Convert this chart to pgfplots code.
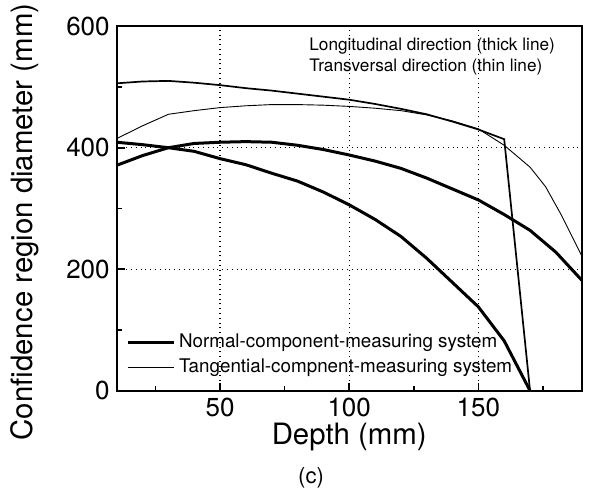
\documentclass[border=0pt]{standalone}
\usepackage{fontspec}
\setmainfont{TeX Gyre Heros}
\usepackage{pgfplots}
\pgfplotsset{compat=1.18}

\begin{document}
\begin{tikzpicture}
% fix the page to the reference's proportions (595x498 px at 0.5pt per px)
\path[use as bounding box] (-58.35pt,-53.65pt) rectangle (239.15pt,195.35pt);
\begin{axis}[
    at={(0,0)}, anchor=south west,
    scale only axis, width=232.5pt, height=182.25pt,
    xmin=10, xmax=190, ymin=0, ymax=600,
    xtick={50,100,150}, ytick={0,200,400,600},
    minor xtick={25,75,125,175}, minor ytick={100,300,500},
    xtick pos=bottom, ytick pos=left,
    tick align=inside,
    major tick length=4pt, minor tick length=2.5pt,
    tick style={black, line width=0.8pt},
    axis line style={line width=1pt},
    grid=major, major grid style={dotted, black, line width=0.6pt},
    /pgf/number format/assume math mode=true,
    ticklabel style={font=\fontsize{13}{15}\selectfont},
    xlabel={Depth (mm)},
    ylabel={Confidence region diameter (mm)},
    label style={font=\fontsize{14.7}{17}\selectfont},
    xlabel style={at={(axis description cs:0.5,-0.126)}, anchor=center},
    ylabel style={at={(axis description cs:-0.197,0.463)}, anchor=center},
    legend style={draw=none, fill=none, at={(axis description cs:0.015,0.023)},
        anchor=south west, font=\fontsize{9.4}{11}\selectfont,
        row sep=0.3pt, inner sep=1pt},
    legend cell align=left,
    legend image code/.code={\draw[#1] (0pt,0pt) -- (23pt,0pt);},
    clip=false,
]
% longitudinal, tangential system (medium line)
\addplot[forget plot, black, line width=0.85pt] coordinates {
    (10,506) (20,509) (30,510) (40,507) (50,503) (60,498) (70,494) (80,489)
    (90,484) (100,479) (110,472) (120,464) (130,455) (140,443) (150,430)
    (160,414) (170,0)
};
% transversal, tangential system (thin line)
\addplot[forget plot, black, line width=0.45pt] coordinates {
    (10,415) (20,436) (30,455) (40,461) (50,466) (60,469) (70,471) (80,471)
    (90,470) (100,468) (110,465) (120,461) (130,454) (140,444) (150,431)
    (160,404) (170,368) (176,336) (182,290) (190,222)
};
% normal system, falls to zero
\addplot[forget plot, black, line width=1.5pt] coordinates {
    (10,409) (20,405) (30,400) (40,394) (50,382) (60,372) (70,358) (80,345)
    (90,327) (100,306) (110,282) (120,254) (130,218) (140,178) (150,138)
    (160,82) (170,0)
};
% normal system, second curve
\addplot[forget plot, black, line width=1.5pt] coordinates {
    (10,371) (20,387) (30,400) (40,407) (50,409) (60,410) (70,409) (80,404)
    (90,397) (100,388) (110,378) (120,366) (130,350) (140,332) (150,314)
    (160,290) (170,264) (180,228) (190,182)
};
\addlegendimage{black, line width=1.5pt}
\addlegendentry{Normal-component-measuring system}
\addlegendimage{black, line width=0.45pt}
\addlegendentry{Tangential-compnent-measuring system}

\node[anchor=west, align=left, font=\fontsize{8.6}{10.35}\selectfont, inner sep=0pt]
    at (axis description cs:0.4135,0.917)
    {Longitudinal direction (thick line)\\Transversal direction (thin line)};
\node[font=\fontsize{11}{13}\selectfont] at (axis description cs:0.418,-0.2397) {(c)};
\end{axis}
\end{tikzpicture}
\end{document}
